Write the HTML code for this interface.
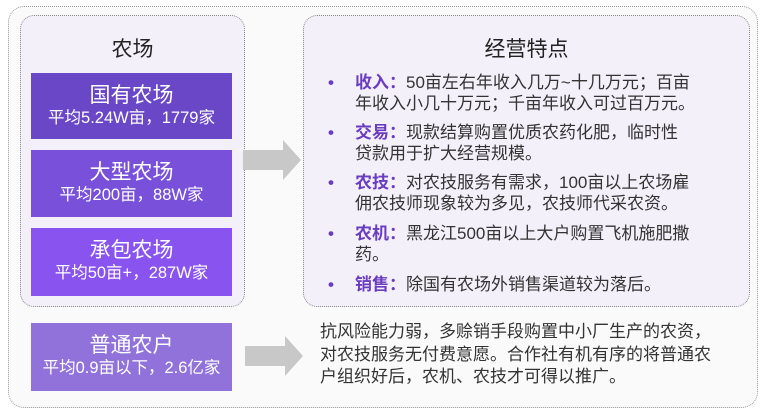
<!DOCTYPE html>
<html><head><meta charset="utf-8"><style>
*{margin:0;padding:0;box-sizing:border-box}
body{width:766px;height:414px;background:#fff;font-family:"Liberation Sans","Noto Sans CJK SC",sans-serif;position:relative;overflow:hidden;color:#333}
.abs{position:absolute}
.outer{left:8px;top:6px;width:750px;height:402px;border:1px dotted #999;border-radius:16px;background:#fafafa}
.inner{border:1px dotted #888;border-radius:14px;background:#f3f0fa}
.box{position:absolute;left:31px;width:201px;color:#fff;text-align:center;white-space:nowrap}
.box .t{font-size:21px;line-height:25px;margin-top:10px}
.box .s{font-size:16.5px;line-height:21px}
.li{position:absolute;left:328px;width:420px;font-size:17px;line-height:21px;color:#333;white-space:nowrap}
.li b{color:#6a3dc0}
.li .d{position:absolute;left:0;color:#6a3dc0;font-weight:bold}
.li .c{position:absolute;left:27px}
</style></head><body>
<div class="abs outer"></div>
<div class="abs inner" style="left:20px;top:15px;width:225px;height:292px"></div>
<div class="abs inner" style="left:303px;top:15px;width:447px;height:292px"></div>
<div class="abs" style="left:20px;top:33px;width:225px;text-align:center;font-size:21px;color:#222">农场</div>
<div class="abs" style="left:303px;top:33px;width:447px;text-align:center;font-size:21px;color:#222">经营特点</div>
<div class="box" style="top:73px;height:66px;background:#6a47c6"><div class="t">国有农场</div><div class="s">平均5.24W亩，1779家</div></div>
<div class="box" style="top:150px;height:67px;background:#7850da"><div class="t">大型农场</div><div class="s">平均200亩，88W家</div></div>
<div class="box" style="top:228px;height:68px;background:#8853ef"><div class="t">承包农场</div><div class="s">平均50亩+，287W家</div></div>
<div class="box" style="top:323px;height:68px;background:#9072da"><div class="t">普通农户</div><div class="s">平均0.9亩以下，2.6亿家</div></div>
<svg class="abs" style="left:0;top:0" width="766" height="414">
<polygon points="243,150 283,150 283,140 301,160 283,180 283,170 243,170" fill="#c8c8c8"/>
<polygon points="245,346 285,346 285,336 303,356 285,376 285,366 245,366" fill="#c8c8c8"/>
</svg>
<div class="li" style="top:72px"><span class="d">•</span><span class="c"><b>收入：</b>50亩左右年收入几万~十几万元；百亩<br>年收入小几十万元；千亩年收入可过百万元。</span></div>
<div class="li" style="top:122px"><span class="d">•</span><span class="c"><b>交易：</b>现款结算购置优质农药化肥，临时性<br>贷款用于扩大经营规模。</span></div>
<div class="li" style="top:172px"><span class="d">•</span><span class="c"><b>农技：</b>对农技服务有需求，100亩以上农场雇<br>佣农技师现象较为多见，农技师代采农资。</span></div>
<div class="li" style="top:223px"><span class="d">•</span><span class="c"><b>农机：</b>黑龙江500亩以上大户购置飞机施肥撒<br>药。</span></div>
<div class="li" style="top:274px"><span class="d">•</span><span class="c"><b>销售：</b>除国有农场外销售渠道较为落后。</span></div>
<div class="abs" style="left:320px;top:321px;font-size:17px;line-height:22.5px;color:#333;white-space:nowrap">抗风险能力弱，多赊销手段购置中小厂生产的农资，<br>对农技服务无付费意愿。合作社有机有序的将普通农<br>户组织好后，农机、农技才可得以推广。</div>
</body></html>
